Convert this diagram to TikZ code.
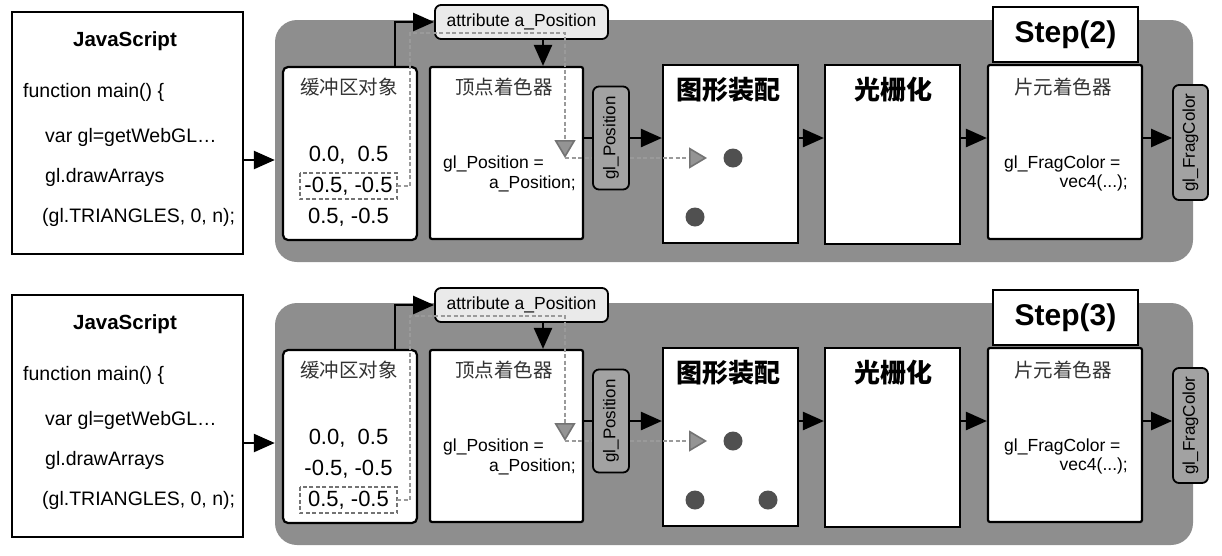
\documentclass[tikz,border=0pt]{standalone}
\usepackage{fontspec}
\setmainfont{Liberation Sans}
\newfontfamily\cjk{Noto Sans CJK SC}
\usetikzlibrary{arrows.meta, positioning}
\definecolor{panelgray}{HTML}{8E8E8E}
\definecolor{tabgray}{HTML}{A2A2A2}
\definecolor{attrgray}{HTML}{EAEAEA}
\definecolor{trailgray}{HTML}{9A9A9A}
\definecolor{dotgray}{HTML}{505050}
\definecolor{titlegray}{HTML}{333333}
\tikzset{
  jsbox/.style={draw, line width=2pt, fill=white, minimum width=231pt, minimum height=242pt},
  panelbox/.style={fill=panelgray, rounded corners=22pt, minimum width=918pt, minimum height=242pt},
  stagebox/.style={draw, line width=2.2pt, fill=white, rounded corners=2pt, inner sep=0pt},
  tagbox/.style={draw, line width=1.8pt, fill=tabgray, rounded corners=6pt, rotate=90,
                 inner sep=0pt, font=\fontsize{17}{19}\selectfont},
  attrbox/.style={draw, line width=1.8pt, fill=attrgray, rounded corners=6pt,
                  minimum width=173pt, minimum height=34pt, font=\fontsize{17.5}{19}\selectfont},
  stepbox/.style={draw, line width=2pt, fill=white, minimum width=145pt, minimum height=55pt,
                  font=\bfseries\fontsize{30}{32}\selectfont},
  codetext/.style={inner sep=0pt, font=\fontsize{19.5}{22}\selectfont},
  glsltext/.style={inner sep=0pt, font=\fontsize{17.5}{19}\selectfont},
  valrow/.style={inner sep=0pt, minimum width=97pt, minimum height=26pt, font=\fontsize{22}{24}\selectfont},
  cjktitle/.style={inner sep=0pt, text=titlegray, font=\cjk\fontsize{19.5}{22}\selectfont},
  cjkbold/.style={inner sep=0pt, font=\cjk\bfseries\fontsize{26}{28}\selectfont},
  flow/.style={line width=2.5pt, -{Triangle[length=21pt,width=18pt]}},
  hlline/.style={draw=black!55, line width=1.5pt, dash pattern=on 4pt off 2.5pt},
  trail/.style={draw=trailgray, line width=1.6pt, dash pattern=on 4pt off 2.5pt},
  tiptri/.style={-{Triangle[length=18pt,width=21pt,fill=black!42,color=black!55]}},
}
\begin{document}
\begin{tikzpicture}[x=1pt, y=-1pt]
\useasboundingbox (0,0) rectangle (1222,555);

\foreach \oy/\stp/\hl in {0/2/2, 283/3/3} {
\begin{scope}[yshift=-\oy pt]
  % JavaScript side
  \node[jsbox] (js\stp) at (127.5,133) {};
  \node[codetext, font=\bfseries\fontsize{20.5}{22}\selectfont] at (125,41) {JavaScript};
  \node[codetext, anchor=west] at (23,92)  {function main() \{};
  \node[codetext, anchor=west] at (45,137) {var gl=getWebGL…};
  \node[codetext, anchor=west] at (45,177) {gl.drawArrays};
  \node[codetext, anchor=west] at (42,217) {(gl.TRIANGLES, 0, n);};

  % WebGL system
  \node[panelbox] (panel\stp) at (734,141) {};
  \coordinate (in\stp) at (0,160);
  \draw[flow] (js\stp.east |- in\stp) -- (panel\stp.west |- in\stp);

  \node[stagebox, minimum width=134pt, minimum height=173pt, rounded corners=5pt] (buf\stp) at (350,153.5) {};
  \node[cjktitle] at (349,87) {缓冲区对象};
  \node[valrow] (val\stp-1) at (348.5,155) {0.0,~~0.5};
  \node[valrow] (val\stp-2) at (348.5,186) {-0.5, -0.5};
  \node[valrow] (val\stp-3) at (348.5,217) {0.5, -0.5};
  \draw[hlline] (val\stp-\hl.north west) rectangle (val\stp-\hl.south east);

  \node[attrbox] (attr\stp) at (521.5,22) {attribute a\_Position};
  \coordinate (feed\stp) at (395,0);
  \draw[flow] (buf\stp.north -| feed\stp) |- (attr\stp.west);

  \node[stagebox, minimum width=153pt, minimum height=172pt] (vs\stp) at (506.5,153) {};
  \node[cjktitle] at (504,87) {顶点着色器};
  \node[glsltext, anchor=west] at (443,164) {gl\_Position =};
  \node[glsltext, anchor=east] at (576,184) {a\_Position;};
  \coordinate (drop\stp) at (543,0);
  \draw[flow] (attr\stp.south -| drop\stp) -- (vs\stp.north -| drop\stp);

  \node[stagebox, minimum width=135pt, minimum height=178pt, rounded corners=0pt] (asm\stp) at (730.5,154) {};
  \node[cjkbold] at (728,90) {图形装配};
  \fill[dotgray] (733,158) circle (9.5pt);
  \fill[dotgray] (695,217) circle (9.5pt);
  \ifnum\stp=3 \fill[dotgray] (768,217) circle (9.5pt); \fi

  \node[stagebox, minimum width=135pt, minimum height=179pt, rounded corners=0pt] (ras\stp) at (892.5,154.5) {};
  \node[cjkbold] at (893,90) {光栅化};

  \node[stagebox, minimum width=154pt, minimum height=174pt] (fs\stp) at (1065,152) {};
  \node[cjktitle] at (1063,87) {片元着色器};
  \node[glsltext, anchor=west] at (1004,164) {gl\_FragColor =};
  \node[glsltext, anchor=east] at (1128,183) {vec4(...);};
  \node[stepbox] (step\stp) at (1065.5,34.5) {Step(\stp)};

  % path of the selected vertex
  \coordinate (lift\stp) at (410,33);
  \coordinate (tap\stp) at (565,158);
  \coordinate (hit\stp) at (707,158);
  \draw[trail, tiptri] (val\stp-\hl.east) -| (lift\stp) -| (tap\stp);
  \draw[trail, tiptri] (tap\stp) -- (hit\stp);

  \node[tagbox, minimum width=103pt, minimum height=36pt] (gp\stp) at (611,138) {gl\_Position};
  \node[tagbox, minimum width=115pt, minimum height=35pt] (fc\stp) at (1190.5,142.5) {gl\_FragColor};

  \draw[line width=2.5pt] (vs\stp.east |- gp\stp) -- (gp\stp);
  \draw[flow] (gp\stp) -- (asm\stp.west |- gp\stp);
  \draw[flow] (asm\stp.east |- gp\stp) -- (ras\stp.west |- gp\stp);
  \draw[flow] (ras\stp.east |- gp\stp) -- (fs\stp.west |- gp\stp);
  \draw[flow] (fs\stp.east |- gp\stp) -- (fc\stp.north |- gp\stp);
\end{scope}
}
\end{tikzpicture}
\end{document}
